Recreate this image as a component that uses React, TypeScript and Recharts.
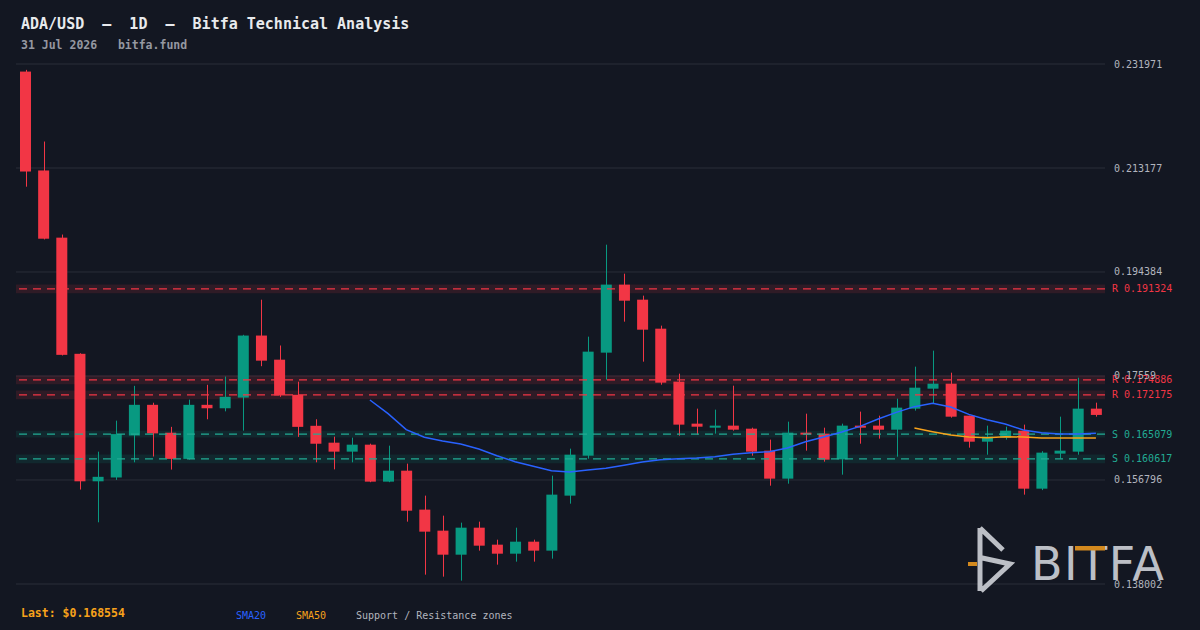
import { ComposedChart, Bar, Line, XAxis, YAxis, CartesianGrid, ReferenceLine, ReferenceArea } from "recharts"

// daily candles (60 days)
const opens = [
  0.2306, 0.21273, 0.20059, 0.1796, 0.15656, 0.15725, 0.16484, 0.17038, 0.16534, 0.16061,
  0.17038, 0.16976, 0.17169, 0.1829, 0.17854, 0.17219, 0.16659, 0.16354, 0.16192, 0.16318,
  0.1565, 0.15848, 0.15144, 0.14764, 0.1433, 0.14818, 0.14511, 0.14348, 0.14565, 0.14403,
  0.15397, 0.16119, 0.17981, 0.1921, 0.18938, 0.18414, 0.17457, 0.16698, 0.16625, 0.16662,
  0.16607, 0.1621, 0.15704, 0.16535, 0.16517, 0.16053, 0.16662, 0.16662, 0.16589, 0.16969,
  0.1733, 0.1742, 0.16842, 0.16372, 0.16445, 0.16571, 0.15523, 0.16156, 0.16192, 0.16969,
]
const highs = [
  0.23091, 0.21796, 0.20115, 0.1797, 0.16192, 0.16752, 0.17381, 0.17076, 0.1664, 0.17132,
  0.174, 0.17549, 0.18303, 0.18938, 0.1811, 0.17456, 0.16777, 0.16463, 0.16445, 0.16336,
  0.163, 0.15975, 0.15397, 0.15035, 0.14909, 0.14927, 0.14601, 0.14818, 0.14601, 0.15758,
  0.16246, 0.1827, 0.19932, 0.19408, 0.19011, 0.18469, 0.17601, 0.16969, 0.16951, 0.17384,
  0.16625, 0.16409, 0.16734, 0.16878, 0.16625, 0.16698, 0.16915, 0.16842, 0.17149, 0.17728,
  0.18017, 0.17619, 0.16842, 0.16662, 0.16643, 0.1668, 0.162, 0.16824, 0.17529, 0.17077,
]
const lows = [
  0.2098, 0.20027, 0.1793, 0.15507, 0.14915, 0.15681, 0.15999, 0.16104, 0.15868, 0.16048,
  0.16777, 0.1692, 0.16571, 0.17736, 0.17182, 0.16459, 0.15999, 0.15872, 0.15999, 0.1564,
  0.1564, 0.14927, 0.13969, 0.13933, 0.13861, 0.14403, 0.1415, 0.14204, 0.14204, 0.14258,
  0.15252, 0.16065, 0.17493, 0.18541, 0.17818, 0.17402, 0.16481, 0.16499, 0.16517, 0.16571,
  0.16119, 0.15577, 0.15613, 0.1621, 0.16011, 0.15776, 0.16336, 0.16427, 0.16101, 0.16933,
  0.17059, 0.16806, 0.16264, 0.16137, 0.16409, 0.15415, 0.15497, 0.16065, 0.16137, 0.16824,
]
const closes = [
  0.21254, 0.2004, 0.17941, 0.15656, 0.15737, 0.16509, 0.17038, 0.16522, 0.16061, 0.17038,
  0.16976, 0.17182, 0.1829, 0.17836, 0.17207, 0.1664, 0.16335, 0.16192, 0.16318, 0.1565,
  0.15848, 0.15125, 0.14746, 0.1433, 0.14818, 0.14493, 0.14348, 0.14565, 0.14403, 0.15415,
  0.16137, 0.17999, 0.1921, 0.1892, 0.18396, 0.17439, 0.1668, 0.16643, 0.16662, 0.16589,
  0.16192, 0.15704, 0.16535, 0.16499, 0.16047, 0.16662, 0.16625, 0.16589, 0.16987, 0.17348,
  0.1742, 0.16824, 0.16372, 0.16463, 0.16571, 0.15523, 0.16174, 0.1621, 0.16969, 0.168554,
]
const sma20 = [
  null, null, null, null, null, null, null, null, null, null,
  null, null, null, null, null, null, null, null, null, 0.17125,
  0.16878, 0.16589, 0.16451, 0.16384, 0.1633, 0.1624, 0.16119, 0.16011, 0.15927, 0.15848,
  0.15824, 0.1586, 0.1589, 0.15945, 0.16005, 0.16047, 0.16065, 0.16077, 0.16101, 0.16143,
  0.16174, 0.16192, 0.16258, 0.16372, 0.16457, 0.16547, 0.16649, 0.16782, 0.16902, 0.17005,
  0.17065, 0.16999, 0.16866, 0.1677, 0.16692, 0.16583, 0.16535, 0.16511, 0.16511, 0.16523,
]
const sma50 = [
  null, null, null, null, null, null, null, null, null, null,
  null, null, null, null, null, null, null, null, null, null,
  null, null, null, null, null, null, null, null, null, null,
  null, null, null, null, null, null, null, null, null, null,
  null, null, null, null, null, null, null, null, null, 0.16619,
  0.16553, 0.16493, 0.16457, 0.16445, 0.16463, 0.16457, 0.16439, 0.16439, 0.16439, 0.16439,
]
const yTicks = [0.138002, 0.156796, 0.17559, 0.194384, 0.213177, 0.231971]
const resistance = [0.191324, 0.174886, 0.172175]
const support = [0.165079, 0.160617]
const supportBand = [0.0006, 0.0008]

const BG = "#131722"
const RED = "#f23645"
const GREEN = "#089981"
const TEAL = "#22ab94"
const ORANGE = "#f7a21b"
const MONO = "'DejaVu Sans Mono', monospace"

const data = closes.map((close, i) => ({
  day: i + 1,
  range: [lows[i], highs[i]],
  open: opens[i],
  high: highs[i],
  low: lows[i],
  close,
  sma20: sma20[i],
  sma50: sma50[i],
}))

function Candle(props: any) {
  const { x, y, width, height, payload } = props
  const top = Math.min(y, y + height)
  const h = Math.abs(height)
  const k = h / (payload.high - payload.low)
  const yo = top + (payload.high - payload.open) * k
  const yc = top + (payload.high - payload.close) * k
  const color = payload.close >= payload.open ? GREEN : RED
  const cx = Math.round(x + width / 2) + 0.5
  return (
    <g>
      <line x1={cx} x2={cx} y1={top} y2={top + h} stroke={color} strokeWidth={1} />
      <rect x={x} y={Math.min(yo, yc)} width={width} height={Math.max(Math.abs(yo - yc), 1.5)} fill={color} />
    </g>
  )
}

const sideLabel = (text: string, color: string) => (p: any) => {
  const vb = p.viewBox
  return (
    <text x={vb.x + vb.width + 7} y={vb.y} dy={3.5} fill={color} fontSize={10} fontFamily={MONO}>
      {text}
    </text>
  )
}

function PriceTick(props: any) {
  const { x, y, payload } = props
  return (
    <text x={x + 1} y={y} dy={3.5} fill="#b2b5be" fontSize={10} fontFamily={MONO}>
      {String(payload.value)}
    </text>
  )
}

function Overlay() {
  return (
    <svg width={1200} height={630} style={{ position: "absolute", left: 0, top: 0, pointerEvents: "none" }}>
      <text x={21} y={29} fill="#e8eaed" fontSize={15} fontWeight="bold" fontFamily={MONO} style={{ whiteSpace: "pre" }}>
        {"ADA/USD  –  1D  –  Bitfa Technical Analysis"}
      </text>
      <text x={21} y={49} fill="#9598a1" fontSize={11.5} fontWeight="bold" fontFamily={MONO} style={{ whiteSpace: "pre" }}>
        {"31 Jul 2026   bitfa.fund"}
      </text>
      <text x={21} y={617} fill={ORANGE} fontSize={11.5} fontWeight="bold" fontFamily={MONO}>
        Last: $0.168554
      </text>
      <text x={236} y={619} fill="#2962ff" fontSize={10} fontFamily={MONO}>SMA20</text>
      <text x={296} y={619} fill={ORANGE} fontSize={10} fontFamily={MONO}>SMA50</text>
      <text x={356} y={619} fill="#b2b5be" fontSize={10} fontFamily={MONO}>Support / Resistance zones</text>

      {/* watermark */}
      <g opacity={0.9}>
        <rect x={968} y={562} width={9} height={4} fill="#e8961e" />
        <path d="M980 528 L980 591 M980 528 L1003 550 M980 557.5 L1010 564 L981 591" stroke="#cfd2d8" strokeWidth={5} fill="none" strokeLinejoin="miter" />
        <text x={1031} y={580} fill="#cfd2d8" fontSize={46} fontFamily="'DejaVu Sans', sans-serif" letterSpacing={1.5}>
          BITFA
        </text>
        <rect x={1075} y={546} width={30} height={4.5} fill="#e8961e" />
      </g>
    </svg>
  )
}

export default function App() {
  return (
    <div style={{ position: "relative", width: 1200, height: 630, background: BG, overflow: "hidden" }}>
      <style>{`body{margin:0;background:${BG}}`}</style>
      <ComposedChart width={1200} height={630} data={data} margin={{ top: 64, right: 0, bottom: 46, left: 16 }}>
        <CartesianGrid vertical={false} stroke="#2a2e39" />
        <XAxis dataKey="day" hide />
        <YAxis
          orientation="right"
          width={95}
          domain={[yTicks[0], yTicks[yTicks.length - 1]]}
          ticks={yTicks}
          interval={0}
          axisLine={false}
          tickLine={false}
          tick={<PriceTick />}
          allowDataOverflow
        />
        {resistance.map((v) => (
          <ReferenceArea key={"ra" + v} y1={v - 0.0008} y2={v + 0.0008} fill={RED} fillOpacity={0.13} stroke="none" />
        ))}
        {support.map((v, i) => (
          <ReferenceArea key={"sa" + v} y1={v - supportBand[i]} y2={v + supportBand[i]} fill={GREEN} fillOpacity={0.13} stroke="none" />
        ))}
        {resistance.map((v) => (
          <ReferenceLine key={"rl" + v} y={v} stroke={RED} strokeDasharray="8 6" strokeWidth={1.2} label={sideLabel("R " + v, RED)} />
        ))}
        {support.map((v) => (
          <ReferenceLine key={"sl" + v} y={v} stroke={TEAL} strokeDasharray="8 6" strokeWidth={1.2} label={sideLabel("S " + v, TEAL)} />
        ))}
        <Bar dataKey="range" barSize={11} shape={<Candle />} isAnimationActive={false} />
        <Line dataKey="sma20" stroke="#2962ff" strokeWidth={1.5} dot={false} type="linear" isAnimationActive={false} />
        <Line dataKey="sma50" stroke={ORANGE} strokeWidth={1.5} dot={false} type="linear" isAnimationActive={false} />
      </ComposedChart>
      <Overlay />
    </div>
  )
}
